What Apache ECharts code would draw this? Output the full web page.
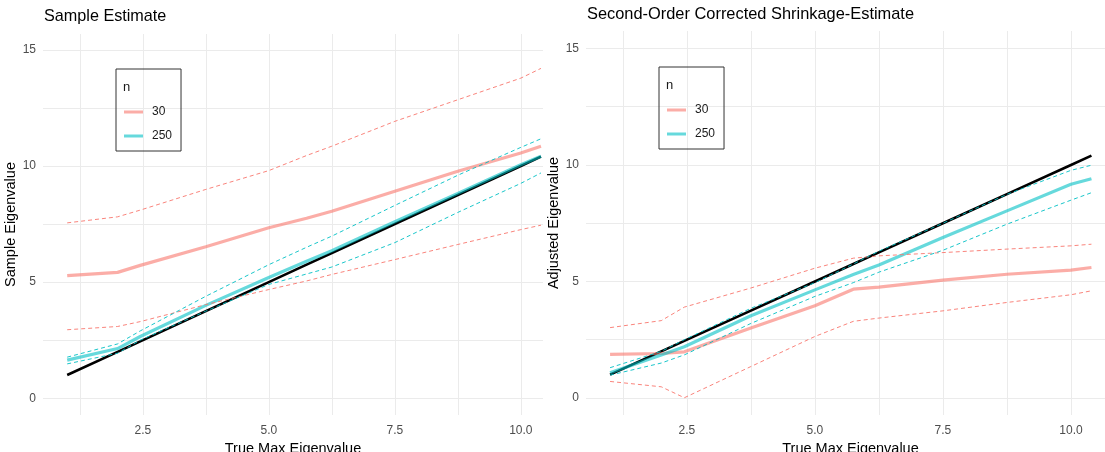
<!DOCTYPE html>
<html>
<head>
<meta charset="utf-8">
<script src="https://cdn.jsdelivr.net/npm/echarts@6/dist/echarts.min.js"></script>
<style>
html,body{margin:0;padding:0;background:#fff;overflow:hidden;}
#chart{width:1105px;height:452px;}
</style>
</head>
<body>
<div id="chart"></div>
<script>
// ---- data ----
const trueMax = [1, 2, 2.45, 3.75, 5, 5.75, 6.25, 7.5, 8.75, 10, 10.4];
const identityLine = [1, 2, 2.45, 3.75, 5, 5.75, 6.25, 7.5, 8.75, 10, 10.4];

// Left panel: Sample Estimate
const sampleMean30  = [5.28, 5.42, 5.72, 6.52, 7.34, 7.75, 8.05, 8.91, 9.77, 10.56, 10.85];
const sampleUpper30 = [7.55, 7.81, 8.10, 8.99, 9.80, 10.45, 10.85, 11.92, 12.85, 13.78, 14.2];
const sampleLower30 = [2.95, 3.09, 3.30, 4.03, 4.68, 5.05, 5.33, 5.97, 6.62, 7.26, 7.45];
const sampleMean250  = [1.64, 2.14, 2.66, 4.00, 5.20, 5.90, 6.35, 7.60, 8.82, 10.05, 10.42];
const sampleUpper250 = [1.77, 2.34, 2.90, 4.39, 5.75, 6.50, 6.98, 8.30, 9.60, 10.80, 11.17];
const sampleLower250 = [1.48, 1.94, 2.50, 3.75, 4.90, 5.35, 5.65, 6.70, 8.00, 9.25, 9.70];

// Right panel: Second-Order Corrected Shrinkage-Estimate
const adjMean30  = [1.87, 1.91, 1.98, 3.00, 3.96, 4.67, 4.76, 5.06, 5.31, 5.49, 5.60];
const adjUpper30 = [3.02, 3.32, 3.90, 4.72, 5.57, 6.00, 6.10, 6.24, 6.39, 6.53, 6.60];
const adjLower30 = [0.71, 0.48, 0.01, 1.35, 2.64, 3.29, 3.43, 3.74, 4.10, 4.43, 4.60];
const adjMean250  = [1.08, 1.85, 2.20, 3.53, 4.64, 5.30, 5.71, 6.89, 8.03, 9.17, 9.41];
const adjUpper250 = [1.30, 2.00, 2.50, 3.85, 4.95, 5.75, 6.30, 7.50, 8.74, 9.77, 9.99];
const adjLower250 = [0.98, 1.50, 1.85, 3.20, 4.36, 4.95, 5.40, 6.34, 7.46, 8.49, 8.81];

const xTicks = [1.25, 2.5, 3.75, 5, 6.25, 7.5, 8.75, 10];
const xLabels = [2.5, 5, 7.5, 10];
const yTicks = [0, 2.5, 5, 7.5, 10, 12.5, 15];
const yLabels = [0, 5, 10, 15];
const groups = ['30', '250'];

// ---- styling ----
const FONT = "'Liberation Sans', Arial, sans-serif";
const RED = '#F8766D', CYAN = '#00BFC4';
const pairs = ys => trueMax.map((x, i) => [x, ys[i]]);

function xAxis(gi, min, max) {
  return {
    type: 'value', gridIndex: gi, min: min, max: max,
    name: 'True Max Eigenvalue', nameLocation: 'middle', nameGap: 20,
    nameTextStyle: {fontFamily: FONT, fontSize: 14.5, color: '#000'},
    axisLine: {show: false},
    axisTick: {show: false, customValues: xTicks},
    axisLabel: {customValues: xLabels, formatter: v => v.toFixed(1), fontFamily: FONT, fontSize: 12, color: '#4D4D4D', margin: 10},
    splitLine: {show: true, lineStyle: {color: '#EBEBEB', width: 1}}
  };
}
function yAxis(gi, min, max, name) {
  return {
    type: 'value', gridIndex: gi, min: min, max: max,
    name: name, nameLocation: 'middle', nameGap: 23,
    nameTextStyle: {fontFamily: FONT, fontSize: 14.5, color: '#000'},
    axisLine: {show: false},
    axisTick: {show: false, customValues: yTicks},
    axisLabel: {customValues: yLabels, formatter: v => String(v), fontFamily: FONT, fontSize: 12, color: '#4D4D4D', margin: 7},
    splitLine: {show: true, lineStyle: {color: '#EBEBEB', width: 1}}
  };
}
function meanSeries(gi, name, ys, color) {
  return {type: 'line', name: name, xAxisIndex: gi, yAxisIndex: gi, data: pairs(ys),
    symbol: 'none', z: 3, silent: true,
    lineStyle: {color: color, width: 3.2, opacity: 0.6}, itemStyle: {color: color, opacity: 0.6}};
}
function dashSeries(gi, name, ys, color) {
  return {type: 'line', name: name, xAxisIndex: gi, yAxisIndex: gi, data: pairs(ys),
    symbol: 'none', z: 4, silent: true,
    lineStyle: {color: color, width: 0.9, type: [4, 3]}, itemStyle: {color: color}};
}
function truthSeries(gi) {
  return {type: 'line', name: 'truth', xAxisIndex: gi, yAxisIndex: gi, data: pairs(identityLine),
    symbol: 'none', z: 2, silent: true, lineStyle: {color: '#000', width: 2.6}, itemStyle: {color: '#000'}};
}
function legend(left, top) {
  return {
    left: left, top: top, orient: 'vertical', data: groups,
    icon: 'rect', itemWidth: 19, itemHeight: 3, itemGap: 10,
    borderColor: '#333', borderWidth: 1, padding: [36, 9, 8, 8],
    textStyle: {fontFamily: FONT, fontSize: 12, color: '#1a1a1a', padding: [0, 0, 0, 4], lineHeight: 14}
  };
}

const chart = echarts.init(document.getElementById('chart'), null, {renderer: 'canvas'});
chart.setOption({
  animation: false,
  backgroundColor: '#fff',
  title: [
    {text: 'Sample Estimate', left: 44, top: 9, padding: 0,
     textStyle: {fontFamily: FONT, fontSize: 16.2, fontWeight: 'normal', color: '#000'}},
    {text: 'Second-Order Corrected Shrinkage-Estimate', left: 587, top: 6, padding: 0,
     textStyle: {fontFamily: FONT, fontSize: 16.4, fontWeight: 'normal', color: '#000'}}
  ],
  grid: [
    {left: 43, top: 34, width: 500, height: 381, outerBoundsMode: 'none', containLabel: false},
    {left: 586, top: 31, width: 529, height: 384, outerBoundsMode: 'none', containLabel: false}
  ],
  xAxis: [xAxis(0, 0.52, 10.44), xAxis(1, 0.53, 10.86)],
  yAxis: [yAxis(0, -0.72, 15.68, 'Sample Eigenvalue'), yAxis(1, -0.73, 15.75, 'Adjusted Eigenvalue')],
  legend: [legend(116, 69), legend(659, 67)],
  graphic: [
    {type: 'text', left: 123, top: 81, style: {text: 'n', font: '13px ' + FONT, fill: '#1a1a1a'}},
    {type: 'text', left: 666, top: 79, style: {text: 'n', font: '13px ' + FONT, fill: '#1a1a1a'}}
  ],
  series: [
    truthSeries(0),
    meanSeries(0, '30', sampleMean30, RED),
    meanSeries(0, '250', sampleMean250, CYAN),
    dashSeries(0, '30', sampleUpper30, RED),
    dashSeries(0, '30', sampleLower30, RED),
    dashSeries(0, '250', sampleUpper250, CYAN),
    dashSeries(0, '250', sampleLower250, CYAN),
    truthSeries(1),
    meanSeries(1, '30', adjMean30, RED),
    meanSeries(1, '250', adjMean250, CYAN),
    dashSeries(1, '30', adjUpper30, RED),
    dashSeries(1, '30', adjLower30, RED),
    dashSeries(1, '250', adjUpper250, CYAN),
    dashSeries(1, '250', adjLower250, CYAN)
  ]
});
</script>
</body>
</html>
